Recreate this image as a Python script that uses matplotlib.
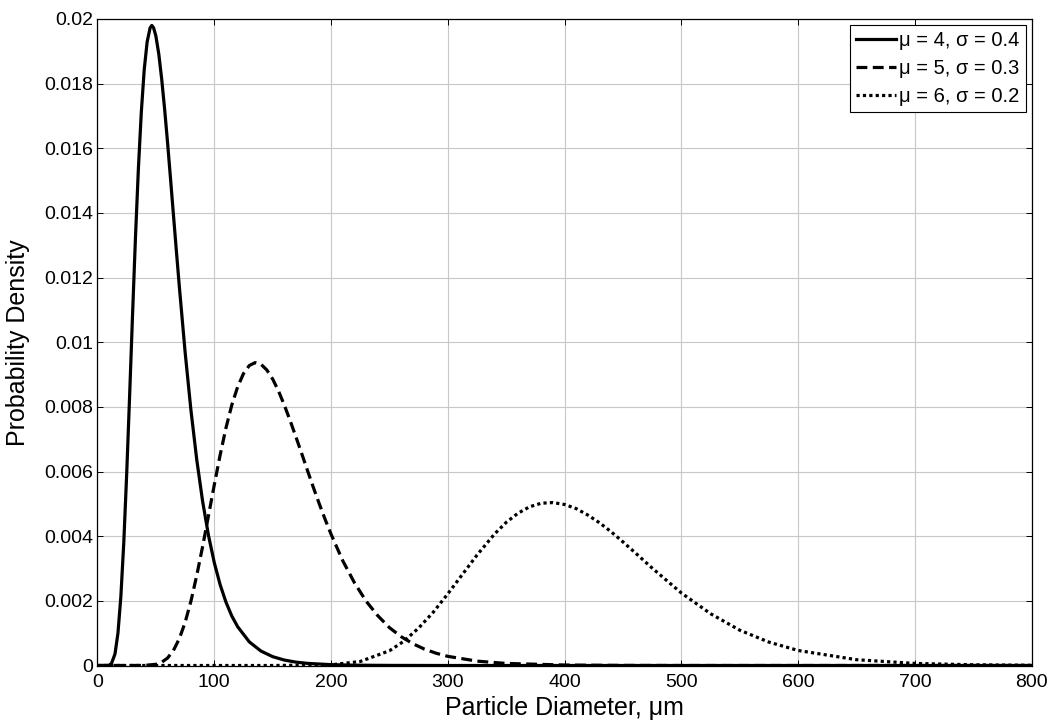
import matplotlib
matplotlib.use("Agg")
import matplotlib.pyplot as plt

plt.rcParams['font.family'] = ['Liberation Sans', 'DejaVu Sans']

# Values
x1 = [0, 8, 10, 12, 15, 17.5, 20, 22.5, 25, 27.5, 30, 32.5, 35, 37.5, 40, 42.5,
      45, 46.5, 48, 50, 52.5, 55, 57.5, 60, 62.5, 65, 67.5, 70, 75, 80, 85, 90,
      95, 100, 105, 110, 115, 120, 130, 140, 150, 160, 170, 180, 200, 220, 250,
      300, 400, 600, 800]
y1 = [0, 0.000001, 0.00001, 0.000064, 0.00036, 0.000997, 0.00213, 0.00380,
      0.00593, 0.00834, 0.01084, 0.01323, 0.01536, 0.01711, 0.01843, 0.01929,
      0.01972, 0.01980, 0.01973, 0.01947, 0.01891, 0.01813, 0.01720, 0.01617,
      0.01507, 0.01395, 0.01284, 0.01175, 0.00970, 0.00790, 0.00636, 0.00508,
      0.00403, 0.00318, 0.00250, 0.00196, 0.00153, 0.00120, 0.00073, 0.000446,
      0.000273, 0.000168, 0.000104, 0.000065, 0.000026, 0.00001, 0.000003,
      0, 0, 0, 0]

x2 = [0, 40, 50, 55, 60, 65, 70, 75, 80, 85, 90, 95, 100, 105, 110, 115, 120,
      125, 130, 135, 140, 145, 150, 155, 160, 165, 170, 175, 180, 185, 190, 195,
      200, 210, 220, 230, 240, 250, 260, 270, 280, 290, 300, 325, 350, 400, 450,
      500, 800]
y2 = [0, 0.000002, 0.000037, 0.000101, 0.000232, 0.000464, 0.000825, 0.00133,
      0.00199, 0.00279, 0.00368, 0.00463, 0.00559, 0.00651, 0.00735, 0.00806,
      0.00862, 0.00903, 0.00928, 0.00937, 0.00932, 0.00914, 0.00886, 0.00849,
      0.00805, 0.00757, 0.00706, 0.00654, 0.00601, 0.00549, 0.00499, 0.00451,
      0.00406, 0.00324, 0.00256, 0.00199, 0.00154, 0.00117, 0.000892, 0.000674,
      0.000506, 0.000379, 0.000283, 0.000135, 0.000064, 0.000014, 0.000003,
      0, 0]

x3 = [0, 150, 200, 225, 250, 262.5, 275, 287.5, 300, 312.5, 325, 340, 350, 360,
      370, 380, 390, 400, 410, 420, 430, 440, 450, 460, 475, 500, 525, 550, 575,
      600, 650, 700, 750, 800]
y3 = [0, 0, 0.000021, 0.000125, 0.000456, 0.000756, 0.00116, 0.00165, 0.00222,
      0.00282, 0.00342, 0.00407, 0.00443, 0.00471, 0.00491, 0.00502, 0.00504,
      0.00498, 0.00485, 0.00465, 0.00441, 0.00413, 0.00382, 0.00350, 0.00301,
      0.00224, 0.00160, 0.00109, 0.000722, 0.000464, 0.000179, 0.000064,
      0.000022, 0.000007]

labels = ['\u03bc = 4, \u03c3 = 0.4', '\u03bc = 5, \u03c3 = 0.3', '\u03bc = 6, \u03c3 = 0.2']
xticks = [0, 100, 200, 300, 400, 500, 600, 700, 800]
yticks = [0, 0.002, 0.004, 0.006, 0.008, 0.01, 0.012, 0.014, 0.016, 0.018, 0.02]
yticklabels = ['0', '0.002', '0.004', '0.006', '0.008', '0.01', '0.012',
               '0.014', '0.016', '0.018', '0.02']

fig = plt.figure(figsize=(10.54, 7.24), dpi=100)
ax = fig.add_axes([0.0925, 0.0808, 0.979 - 0.0925, 0.9738 - 0.0808])

lw = 2.3
ax.plot(x1, y1, color='black', lw=lw, linestyle='-', label=labels[0])
ax.plot(x2, y2, color='black', lw=lw, linestyle=(0, (3.4, 1.7)), label=labels[1])
ax.plot(x3, y3, color='black', lw=lw, linestyle=(0, (1, 1)), label=labels[2])

ax.set_xlim(0, 800)
ax.set_ylim(0, 0.02)
ax.set_xticks(xticks)
ax.set_yticks(yticks)
ax.set_yticklabels(yticklabels)
ax.grid(True, color='#c8c8c8', lw=0.8, linestyle='-')
ax.set_axisbelow(True)
ax.tick_params(direction='in', length=4, width=0.7, top=True, right=True,
               labelsize=14, colors='black')
ax.tick_params(axis='y', pad=3)
ax.tick_params(axis='x', pad=6)
for s in ax.spines.values():
    s.set_linewidth(0.9)
    s.set_color('black')

ax.set_xlabel('Particle Diameter, \u03bcm', fontsize=18, labelpad=4)
ax.set_ylabel('Probability Density', fontsize=18, labelpad=10)

leg = ax.legend(loc='upper right', fontsize=14.5, frameon=True, fancybox=False,
                edgecolor='black', framealpha=1, borderaxespad=0.3,
                borderpad=0.3, handlelength=2.0, handletextpad=0.15,
                labelspacing=0.45)
leg.get_frame().set_linewidth(0.8)

fig.savefig('out.png', dpi=100)
